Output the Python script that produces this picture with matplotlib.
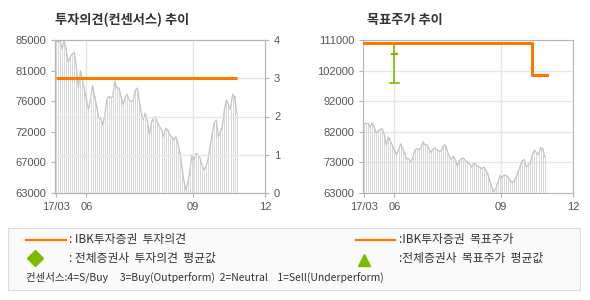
import matplotlib
matplotlib.use("Agg")
import matplotlib.pyplot as plt
import numpy as np

KR = ["Noto Sans CJK KR", "DejaVu Sans"]

# x-axis month labels and their positions (trading index)
month_labels = ["17/03", "06", "09", "12"]
month_pos = [0, 15, 67.5, 103]

# closing price
price = [84900, 84700, 84900, 83700, 85000, 83700, 81800, 82500, 83000, 83200,
         81300, 78100, 80600, 79300, 77900, 76400, 75000, 76400, 78400, 76900,
         75500, 73800, 73800, 72800, 74000, 76400, 76900, 76700, 76900, 79100,
         78100, 78100, 76900, 75700, 76700, 77200, 76400, 76200, 76200, 77700,
         78100, 76400, 74500, 73500, 74500, 73500, 71400, 73100, 73800, 74000,
         73100, 72600, 72100, 71100, 72300, 72100, 71400, 71100, 70600, 71100,
         70200, 68900, 66800, 64800, 63400, 64600, 66300, 68500, 67700, 68700,
         68500, 68000, 67000, 66300, 66800, 68000, 69700, 71600, 73100, 73500,
         71100, 71800, 72600, 75000, 76400, 75700, 75000, 77200, 76900, 74500]

# IBK investment opinion (3 = Buy)
opinion_x = [0, 89]
opinion_y = [3, 3]

# IBK target price
target_x = [0, 83, 90]
target_y = [110000, 100000, 100000]

# consensus target price range (all brokers)
cons_x = 15
cons_high = 110000
cons_mean = 106600
cons_low = 97400

left_ticks = ["63000", "67000", "72000", "76000", "81000", "85000"]
right_ticks = ["63000", "73000", "82000", "92000", "102000", "111000"]

ORANGE = "#ff7700"
GREEN = "#7dbb00"
GRID = "#e6e6e6"
SPINE = "#b4b4b4"
TXT = "#555555"

W, H = 590, 300
fig = plt.figure(figsize=(W / 100, H / 100), dpi=100)
fig.patch.set_facecolor("white")


def px_axes(x0, y0, x1, y1):
    return fig.add_axes([x0 / W, 1 - y1 / H, (x1 - x0) / W, (y1 - y0) / H])


def style(ax, ymin, ymax, labels):
    x = np.arange(len(price))
    ax.vlines(x, ymin, price, color="#d8d8d8", lw=0.5, antialiased=False, zorder=1)
    ax.plot(x, price, color="#c4c4c4", lw=0.9, zorder=2)
    ax.set_xlim(-0.5, 103)
    ax.set_ylim(ymin, ymax)
    ax.set_yticks(np.linspace(ymin, ymax, 6))
    ax.set_yticklabels(labels)
    ax.set_xticks(month_pos)
    ax.set_xticklabels(month_labels)
    for s in ax.spines.values():
        s.set_color(SPINE)
    ax.tick_params(colors=SPINE, labelcolor=TXT, labelsize=8, length=3, width=0.8)
    for lab in ax.get_xticklabels() + ax.get_yticklabels():
        lab.set_family("Liberation Sans")
    for p in month_pos[1:3]:
        ax.axvline(p, color=GRID, lw=1, zorder=0)


# ---- left: investment opinion ----
ax1 = px_axes(55, 40, 265, 193)
style(ax1, 63000, 85000, left_ticks)
ax1b = ax1.twinx()
ax1b.set_ylim(0, 4)
ax1b.set_yticks([0, 1, 2, 3, 4])
for v in [1, 2, 3]:
    ax1b.axhline(v, color=GRID, lw=1, zorder=0)
ax1b.plot(opinion_x, opinion_y, color=ORANGE, lw=2.2, solid_capstyle="butt", zorder=5)
ax1b.tick_params(colors=SPINE, labelcolor=TXT, labelsize=8, length=3, width=0.8)
for lab in ax1b.get_yticklabels():
    lab.set_family("Liberation Sans")
for s in ax1b.spines.values():
    s.set_color(SPINE)
ax1.set_zorder(ax1b.get_zorder() - 1)
ax1b.patch.set_visible(False)
fig.text(55 / W, 1 - 20 / H, "투자의견(컨센서스) 추이", family=KR, fontsize=9.5,
         fontweight="bold", color="#333333", va="center", ha="left")

# ---- right: target price ----
ax2 = px_axes(363, 40, 573, 193)
style(ax2, 63000, 111000, right_ticks)
for v in np.linspace(63000, 111000, 6)[1:5]:
    ax2.axhline(v, color=GRID, lw=1, zorder=0)
ax2.plot(target_x, target_y, color=ORANGE, lw=2.2, drawstyle="steps-post", zorder=5)
ax2.plot([cons_x, cons_x], [cons_low, cons_high], color=GREEN, lw=1.2, zorder=4)
ax2.plot([cons_x - 2.2, cons_x + 2.2], [cons_low, cons_low], color=GREEN, lw=1.2, zorder=4)
ax2.plot([cons_x - 1.2, cons_x + 1.2], [cons_mean, cons_mean], color=GREEN, lw=1.6, zorder=4)
fig.text(367 / W, 1 - 20 / H, "목표주가 추이", family=KR, fontsize=9.5,
         fontweight="bold", color="#333333", va="center", ha="left")

# ---- legend box ----
lg = px_axes(8, 228, 580, 290)
lg.set_xlim(8, 580)
lg.set_ylim(290, 228)
lg.set_facecolor("#fafafa")
lg.set_xticks([])
lg.set_yticks([])
for s in lg.spines.values():
    s.set_color("#dddddd")
lg.plot([26, 66], [240, 240], color=ORANGE, lw=1.6)
lg.plot([35], [258], marker="D", ms=8.5, color=GREEN, mec=GREEN)
lg.plot([356, 395], [240, 240], color=ORANGE, lw=1.6)
lg.plot([364], [260], marker="^", ms=9, color=GREEN, mec=GREEN)
tkw = dict(family=KR, fontsize=8.5, color="#333333", va="center", ha="left")
lg.text(69, 240, ": IBK투자증권  투자의견", **tkw)
lg.text(69, 258, ": 전체증권사  투자의견  평균값", **tkw)
lg.text(399, 240, ":IBK투자증권  목표주가", **tkw)
lg.text(399, 258, ":전체증권사  목표주가  평균값", **tkw)
lg.text(26, 277, "컨센서스:4=S/Buy     3=Buy(Outperform)  2=Neutral    1=Sell(Underperform)",
        family=KR, fontsize=7.5, color="#333333", va="center", ha="left")

fig.savefig("out.png", dpi=100, facecolor="white")
